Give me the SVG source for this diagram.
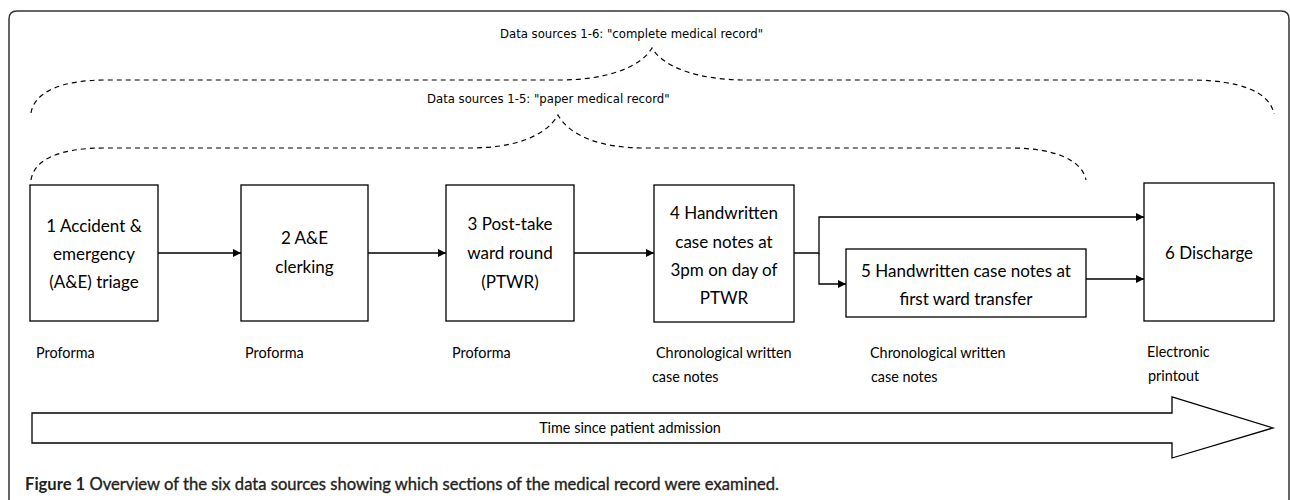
<svg xmlns="http://www.w3.org/2000/svg" width="1290" height="500" viewBox="0 0 1290 500">
<defs>
<marker id="ah" viewBox="0 0 10 10" refX="10" refY="5" markerWidth="8" markerHeight="8" markerUnits="userSpaceOnUse" orient="auto">
<path d="M0,0 L10,5 L0,10 z" fill="#000"/>
</marker>
<style>
.box{fill:#fff;stroke:#000;stroke-width:1.3}
.bt{font-family:Lato,"Liberation Sans",sans-serif;font-size:17px;fill:#000;text-anchor:middle}
.lb{font-family:Lato,"Liberation Sans",sans-serif;font-size:14.4px;fill:#000}
.ds{font-family:"DejaVu Sans",sans-serif;font-size:11.7px;fill:#000}
.brace{fill:none;stroke:#000;stroke-width:1.2;stroke-dasharray:5 4}
.conn{fill:none;stroke:#000;stroke-width:1.3}
.cap{font-family:Lato,"Liberation Sans",sans-serif;font-size:16.6px;fill:#231f20}
</style>
</defs>
<rect width="1290" height="500" fill="#fff"/>
<path d="M9,500 L9,19 Q9,11 17,11 L1281,11 Q1289,11 1289,19 L1289,500" fill="none" stroke="#333" stroke-width="1.5"/>

<g id="braces">
<path class="brace" d="M31,113 C34,93 60,80 105,80 L560,80 C605,80 640,68 652,48 C664,68 700,80 745,80 L1190,80 C1240,80 1270,92 1274,114"/>
<text class="ds" x="500" y="38">Data sources 1-6: "complete medical record"</text>
<path class="brace" d="M31,180 C34,160 58,148 105,148 L470,148 C515,148 546,136 558,115 C570,136 600,148 645,148 L1010,148 C1055,148 1082,160 1086,180"/>
<text class="ds" x="427" y="103">Data sources 1-5: "paper medical record"</text>
</g>

<g id="n1">
<rect class="box" x="30" y="185" width="128" height="136"/>
<text class="bt" x="94" y="232">1 Accident &amp;</text>
<text class="bt" x="94" y="260">emergency</text>
<text class="bt" x="94" y="288">(A&amp;E) triage</text>
<text class="lb" x="36" y="358">Proforma</text>
</g>
<g id="n2">
<rect class="box" x="241" y="185" width="127" height="136"/>
<text class="bt" x="304.5" y="244">2 A&amp;E</text>
<text class="bt" x="304.5" y="273">clerking</text>
<text class="lb" x="245" y="358">Proforma</text>
</g>
<g id="n3">
<rect class="box" x="446" y="185" width="128" height="136"/>
<text class="bt" x="510" y="230">3 Post-take</text>
<text class="bt" x="510" y="259">ward round</text>
<text class="bt" x="510" y="288">(PTWR)</text>
<text class="lb" x="452" y="358">Proforma</text>
</g>
<g id="n4">
<rect class="box" x="654" y="185" width="140" height="137"/>
<text class="bt" x="724" y="219">4 Handwritten</text>
<text class="bt" x="724" y="248">case notes at</text>
<text class="bt" x="724" y="276">3pm on day of</text>
<text class="bt" x="724" y="304">PTWR</text>
<text class="lb" x="656" y="358">Chronological written</text>
<text class="lb" x="652" y="382">case notes</text>
</g>
<g id="n5">
<rect class="box" x="846" y="249" width="240" height="68"/>
<text class="bt" x="966" y="277">5 Handwritten case notes at</text>
<text class="bt" x="966" y="305">first ward transfer</text>
<text class="lb" x="870" y="358">Chronological written</text>
<text class="lb" x="871" y="382">case notes</text>
</g>
<g id="n6">
<rect class="box" x="1144" y="183" width="130" height="138"/>
<text class="bt" x="1209" y="259">6 Discharge</text>
<text class="lb" x="1147" y="357">Electronic</text>
<text class="lb" x="1148" y="381">printout</text>
</g>

<g id="connectors">
<line class="conn" x1="158" y1="253" x2="241" y2="253" marker-end="url(#ah)"/>
<line class="conn" x1="368" y1="253" x2="446" y2="253" marker-end="url(#ah)"/>
<line class="conn" x1="574" y1="253" x2="654" y2="253" marker-end="url(#ah)"/>
<path class="conn" d="M794,253 L819,253 L819,217 L1144,217" marker-end="url(#ah)"/>
<path class="conn" d="M819,253 L819,284 L846,284" marker-end="url(#ah)"/>
<line class="conn" x1="1086" y1="279" x2="1144" y2="279" marker-end="url(#ah)"/>
</g>

<g id="timeline">
<polygon points="32,413 1172,413 1172,397 1273,428 1172,458 1172,443 32,443" fill="#fff" stroke="#000" stroke-width="1.3"/>
<text class="lb" x="630" y="433" text-anchor="middle">Time since patient admission</text>
</g>

<text class="cap" x="25" y="490"><tspan font-weight="bold">Figure 1</tspan><tspan stroke="#231f20" stroke-width="0.35"> Overview of the six data sources showing which sections of the medical record were examined.</tspan></text>
</svg>
